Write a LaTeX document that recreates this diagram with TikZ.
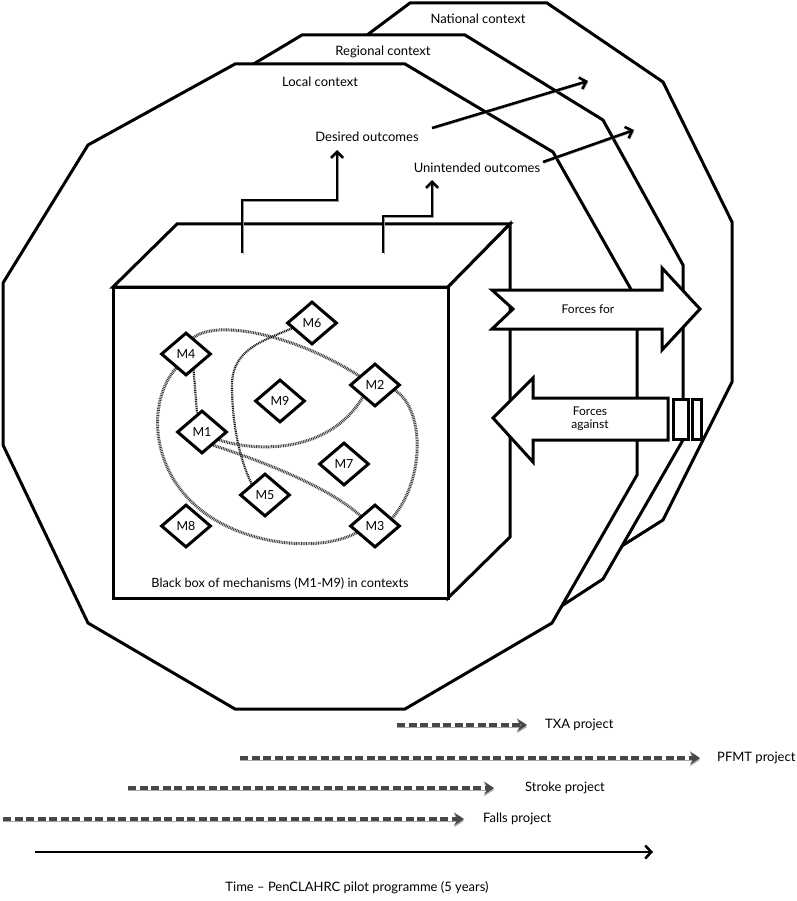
\documentclass[tikz,border=0pt]{standalone}
\usepackage{fontspec}
\setmainfont{Lato}
\usetikzlibrary{shapes.geometric,arrows.meta}
\pgfdeclarelayer{back}
\pgfdeclarelayer{links}
\pgfsetlayers{back,links,main}
\begin{document}
\begin{tikzpicture}[x=1pt,y=-1pt,
  ctx/.style={draw=black,fill=white,line width=3pt},
  lbl/.style={font=\fontsize{13}{15}\selectfont,inner sep=0pt},
  flbl/.style={font=\fontsize{12}{14}\selectfont,inner sep=0pt},
  mech/.style={diamond,draw=black,fill=white,line width=3pt,minimum width=50pt,minimum height=43pt,inner sep=0pt,font=\fontsize{12.5}{14}\selectfont},
  link/.style={draw=black!75,line width=3pt,dash pattern=on 0.9pt off 0.8pt},
  linkdark/.style={draw=black!90,line width=2.2pt,dash pattern=on 1pt off 0.8pt},
  oa/.style={line width=2.6pt,-{Straight Barb[length=6pt,width=12pt]},
     preaction={draw=black!40,transform canvas={shift={(1.3pt,-1.3pt)}}}},
  tl/.style={line width=3.6pt,draw=black!72,dash pattern=on 8pt off 3.5pt,
     -{Stealth[length=10pt,width=13pt,inset=4pt]},
     preaction={draw=black!35,transform canvas={shift={(0pt,-1.8pt)}}}},
]
\useasboundingbox (0,0) rectangle (796,901);

\begin{pgfonlayer}{back}
% national context
\draw[ctx] (410,3) -- (547,3) -- (663,82) -- (732,222) -- (732,382) -- (663,520) -- (560,585) -- (420,620) -- (280,600) -- (200,480) -- (200,300) -- (280,100) -- cycle;
% regional context
\draw[ctx] (302,35) -- (465,35) -- (603,120) -- (683,265) -- (683,440) -- (603,579) -- (540,620) -- (465,655) -- (302,665) -- (160,590) -- (80,430) -- (80,260) -- (160,120) -- cycle;
% local context
\draw[ctx] (235,64) -- (405,64) -- (553,152) -- (637,300) -- (637,475) -- (552,623) -- (405,709) -- (235,709) -- (88,623) -- (3,445) -- (3,283) -- (88,145) -- cycle;
% black box (cube)
\draw[ctx] (113,287) -- (177,224) -- (510,224) -- (448,287) -- cycle;
\draw[ctx] (448,287) -- (510,224) -- (510,537) -- (448,598) -- cycle;
\draw[ctx] (113,287) rectangle (448,598);
\end{pgfonlayer}

% context labels
\node[lbl] (nat) at (478,19) {National context};
\node[lbl] (reg) at (383,52) {Regional context};
\node[lbl] (loc) at (320,82) {Local context};

% outcomes
\node[lbl] (des) at (367,137) {Desired outcomes};
\node[lbl] (uni) at (477,168) {Unintended outcomes};
\coordinate (ds) at (242,253);
\coordinate (dtip) at (337,150);
\coordinate (us) at (383,253);
\coordinate (utip) at (432,180);
\draw[oa] (ds) -- (242,200) -- (337,200) -- (dtip);
\draw[oa] (us) -- (383,216) -- (432,216) -- (utip);
\coordinate (da) at (432,128);
\coordinate (db) at (588,81);
\coordinate (ua) at (543,162);
\coordinate (ub) at (634,130);
\draw[oa] (da) -- (db);
\draw[oa] (ua) -- (ub);

% forces
\draw[ctx] (492,290) -- (662,290) -- (662,268) -- (700,309) -- (662,350) -- (662,329) -- (492,329) -- (513,309) -- cycle;
\node[flbl] (ffor) at (588,309) {Forces for};
\draw[ctx] (493,418) -- (533,378) -- (533,398) -- (668,398) -- (668,440) -- (533,440) -- (533,462) -- cycle;
\draw[ctx] (673,399) rectangle (688,439);
\draw[ctx] (692,399) rectangle (701,439);
\node[flbl,align=center] (fag) at (590,419) {Forces\\[-1pt]against};

% mechanisms
\node[mech] (M4) at (186,354) {M4};
\node[mech] (M6) at (312,323) {M6};
\node[mech] (M2) at (375,385) {M2};
\node[mech] (M9) at (280,401) {M9};
\node[mech] (M1) at (202,432) {M1};
\node[mech] (M7) at (344,464) {M7};
\node[mech] (M5) at (265,495) {M5};
\node[mech] (M8) at (186,526) {M8};
\node[mech] (M3) at (375,526) {M3};
\node[lbl,font=\fontsize{12.7}{14}\selectfont] (cap) at (280,583) {Black box of mechanisms (M1-M9) in contexts};

\begin{pgfonlayer}{links}
\draw[link] (M4.65) .. controls (215,320) and (290,332) .. (M2.150);
\draw[link] (M2.-15) .. controls (425,410) and (425,480) .. (M3.25);
\draw[link] (M3.200) .. controls (320,553) and (240,546) .. (195,505) .. controls (150,465) and (148,400) .. (M4.235);
\draw[linkdark] (M6.195) .. controls (262,341) and (232,350) .. (232,385) .. controls (232,425) and (240,460) .. (M5.140);
\draw[link] (M1.-25) .. controls (260,453) and (330,452) .. (M2.225);
\draw[link] (M1.-50) .. controls (265,462) and (330,488) .. (M3.145);
\draw[linkdark] (M4.-65) -- (M1.105);
\end{pgfonlayer}

% timeline
\node[lbl,anchor=west] (txa) at (545,725) {TXA project};
\node[lbl,anchor=west] (pfmt) at (717,758) {PFMT project};
\node[lbl,anchor=west] (stroke) at (525,788) {Stroke project};
\node[lbl,anchor=west] (falls) at (483,819) {Falls project};
\coordinate (txas) at (397,725);  \coordinate (txae) at (527,725);
\coordinate (pfs) at (240,758);   \coordinate (pfe) at (700,758);
\coordinate (sts) at (128,788);   \coordinate (ste) at (494,788);
\coordinate (fas) at (3,819);     \coordinate (fae) at (464,819);
\draw[tl] (txas) -- (txae);
\draw[tl] (pfs) -- (pfe);
\draw[tl] (sts) -- (ste);
\draw[tl] (fas) -- (fae);
\coordinate (ts) at (35,852); \coordinate (te) at (653,852);
\draw[line width=2.6pt,-{Straight Barb[length=6pt,width=13pt]}] (ts) -- (te);
\node[lbl] (time) at (357,888) {Time – PenCLAHRC pilot programme (5 years)};
\end{tikzpicture}
\end{document}
